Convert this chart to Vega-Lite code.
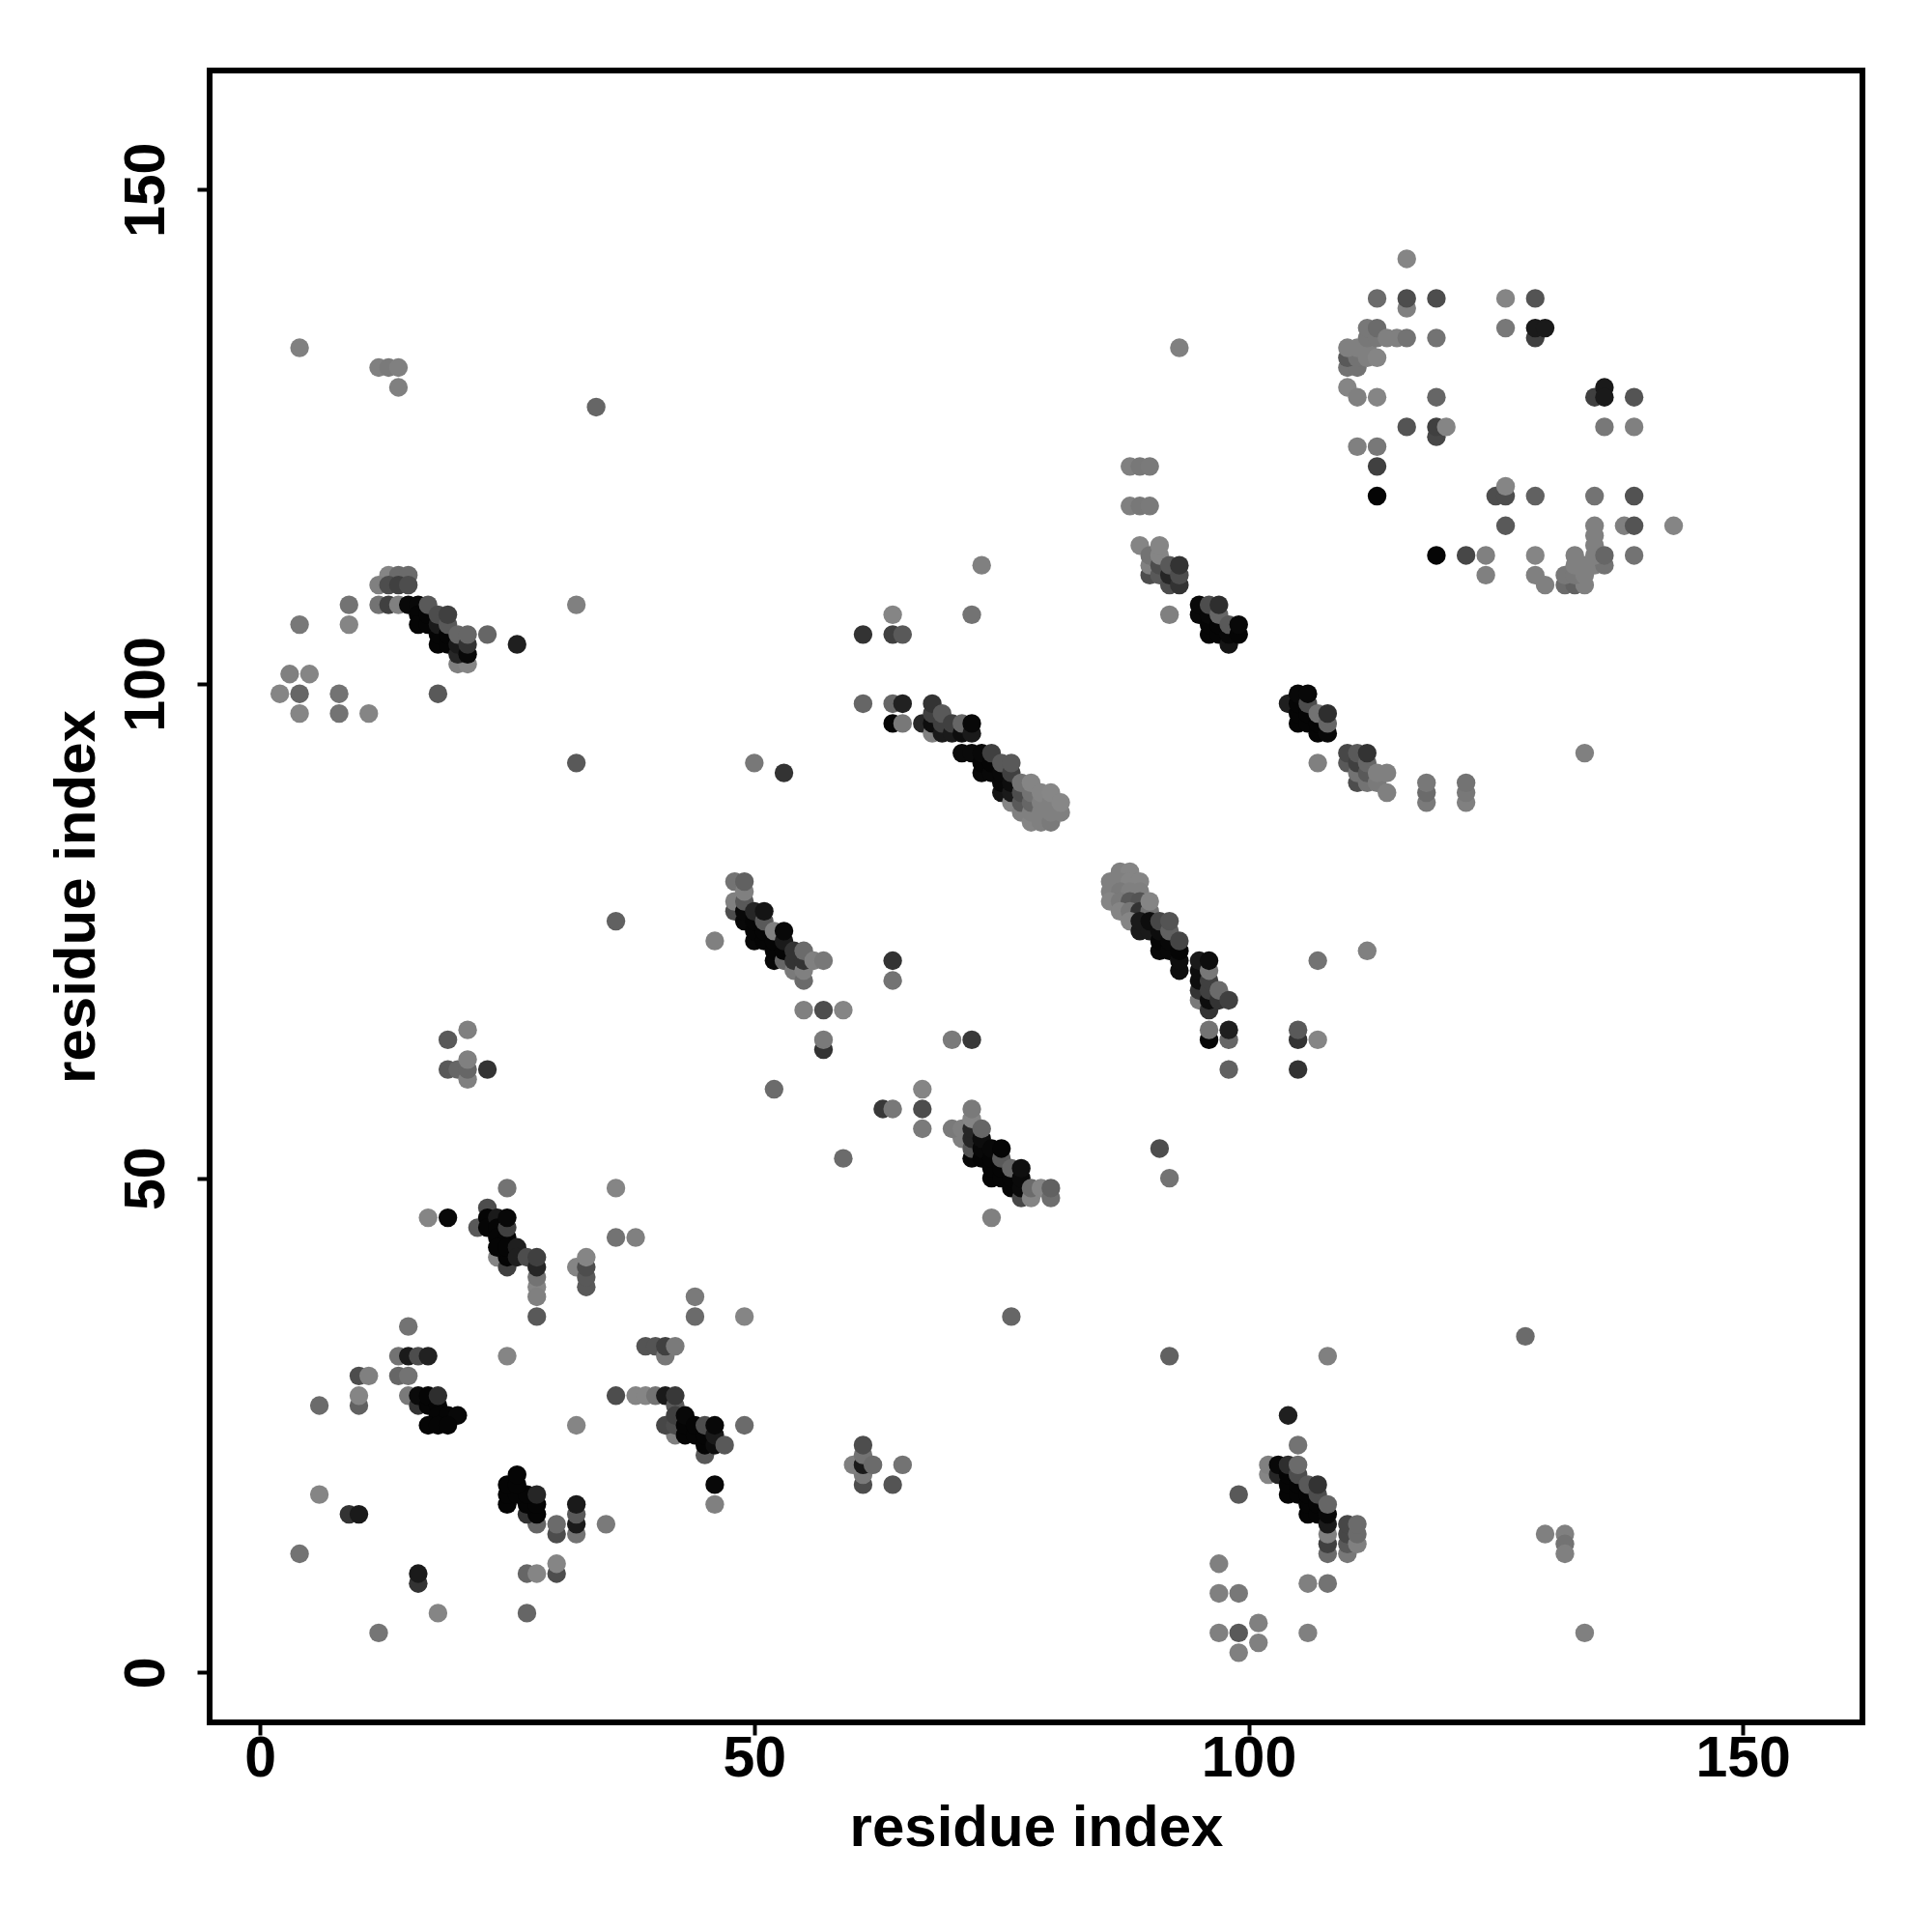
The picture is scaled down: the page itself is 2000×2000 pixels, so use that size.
{"$schema":"https://vega.github.io/schema/vega-lite/v6.json","autosize":{"type":"none"},"padding":{"left":217,"top":73,"right":72,"bottom":217},"width":1711,"height":1710,"background":"white","view":{"stroke":"black","strokeWidth":6},
"data":{"values":[
{"x":25,"y":49,"g":0.45},{"x":36,"y":49,"g":0.52},{"x":17,"y":46,"g":0.52},{"x":19,"y":46,"g":0.03},{"x":23,"y":47,"g":0.3},{"x":22,"y":45,"g":0.35},{"x":23,"y":46,"g":0.02},{"x":23,"y":45,"g":0.02},{"x":24,"y":46,"g":0.1},{"x":24,"y":45,"g":0.02},{"x":24,"y":44,"g":0.02},{"x":25,"y":44,"g":0.02},{"x":24,"y":42,"g":0.52},{"x":25,"y":41,"g":0.25},{"x":25,"y":42,"g":0.02},{"x":24,"y":43,"g":0.02},{"x":25,"y":43,"g":0.02},{"x":26,"y":43,"g":0.12},{"x":26,"y":42,"g":0.12},{"x":25,"y":45,"g":0.25},{"x":25,"y":46,"g":0.03},{"x":27,"y":42,"g":0.3},{"x":28,"y":39,"g":0.52},{"x":28,"y":38,"g":0.5},{"x":28,"y":40,"g":0.45},{"x":28,"y":41,"g":0.15},{"x":28,"y":42,"g":0.25},{"x":28,"y":36,"g":0.35},
{"x":32,"y":41,"g":0.52},{"x":33,"y":39,"g":0.35},{"x":33,"y":40,"g":0.35},{"x":33,"y":41,"g":0.3},{"x":33,"y":42,"g":0.52},{"x":36,"y":44,"g":0.45},{"x":38,"y":44,"g":0.5},{"x":15,"y":35,"g":0.45},{"x":14,"y":32,"g":0.45},{"x":15,"y":32,"g":0.1},{"x":16,"y":32,"g":0.3},{"x":17,"y":32,"g":0.13},{"x":25,"y":32,"g":0.52},{"x":10,"y":30,"g":0.3},{"x":11,"y":30,"g":0.5},{"x":14,"y":30,"g":0.4},{"x":15,"y":30,"g":0.45},{"x":10,"y":27,"g":0.38},{"x":10,"y":28,"g":0.52},{"x":6,"y":27,"g":0.42},{"x":15,"y":28,"g":0.48},{"x":16,"y":27,"g":0.2},{"x":16,"y":28,"g":0.04},{"x":17,"y":27,"g":0.02},{"x":17,"y":28,"g":0.02},{"x":18,"y":27,"g":0.02},{"x":18,"y":28,"g":0.18},{"x":18,"y":26,"g":0.02},{"x":19,"y":26,"g":0.02},{"x":20,"y":26,"g":0.03},{"x":17,"y":25,"g":0.02},{"x":18,"y":25,"g":0.02},{"x":19,"y":25,"g":0.02},{"x":32,"y":25,"g":0.52},{"x":36,"y":28,"g":0.3},
{"x":38,"y":28,"g":0.52},{"x":39,"y":28,"g":0.52},{"x":40,"y":28,"g":0.45},{"x":39,"y":33,"g":0.33},{"x":40,"y":33,"g":0.33},{"x":41,"y":32,"g":0.47},{"x":41,"y":33,"g":0.25},{"x":42,"y":33,"g":0.48},{"x":41,"y":28,"g":0.1},{"x":42,"y":27,"g":0.35},{"x":42,"y":28,"g":0.22},{"x":42,"y":24,"g":0.5},{"x":41,"y":25,"g":0.28},{"x":42,"y":25,"g":0.3},{"x":42,"y":26,"g":0.25},{"x":43,"y":24,"g":0.02},{"x":43,"y":25,"g":0.02},{"x":43,"y":26,"g":0.03},{"x":44,"y":24,"g":0.02},{"x":44,"y":25,"g":0.02},{"x":45,"y":22,"g":0.35},{"x":45,"y":23,"g":0.02},{"x":45,"y":24,"g":0.02},{"x":45,"y":25,"g":0.3},{"x":46,"y":23,"g":0.05},{"x":46,"y":24,"g":0.1},{"x":46,"y":25,"g":0.03},{"x":47,"y":23,"g":0.35},{"x":49,"y":25,"g":0.42},{"x":44,"y":38,"g":0.48},{"x":44,"y":36,"g":0.42},{"x":49,"y":36,"g":0.52},{"x":46,"y":19,"g":0.03},{"x":46,"y":17,"g":0.5},
{"x":28,"y":15,"g":0.4},{"x":27,"y":16,"g":0.2},{"x":28,"y":16,"g":0.02},{"x":25,"y":17,"g":0.02},{"x":27,"y":17,"g":0.02},{"x":28,"y":17,"g":0.02},{"x":25,"y":18,"g":0.02},{"x":26,"y":18,"g":0.02},{"x":27,"y":18,"g":0.02},{"x":28,"y":18,"g":0.15},{"x":25,"y":19,"g":0.02},{"x":26,"y":19,"g":0.02},{"x":26,"y":20,"g":0.02},{"x":30,"y":14,"g":0.3},{"x":30,"y":15,"g":0.42},{"x":32,"y":14,"g":0.45},{"x":32,"y":15,"g":0.1},{"x":32,"y":16,"g":0.35},{"x":32,"y":17,"g":0.1},{"x":35,"y":15,"g":0.48},{"x":30,"y":10,"g":0.3},{"x":30,"y":11,"g":0.52},{"x":27,"y":10,"g":0.4},{"x":28,"y":10,"g":0.52},{"x":16,"y":9,"g":0.2},{"x":16,"y":10,"g":0.1},{"x":9,"y":16,"g":0.2},{"x":10,"y":16,"g":0.1},{"x":6,"y":18,"g":0.52},{"x":4,"y":12,"g":0.45},{"x":18,"y":6,"g":0.52},{"x":27,"y":6,"g":0.4},{"x":12,"y":4,"g":0.46},
{"x":61,"y":19,"g":0.3},{"x":61,"y":20,"g":0.48},{"x":60,"y":21,"g":0.5},{"x":61,"y":21,"g":0.1},{"x":61,"y":22,"g":0.45},{"x":62,"y":21,"g":0.42},{"x":61,"y":23,"g":0.3},{"x":65,"y":21,"g":0.45},{"x":64,"y":19,"g":0.33},
{"x":64,"y":72,"g":0.2},{"x":64,"y":70,"g":0.45},{"x":55,"y":67,"g":0.5},{"x":57,"y":67,"g":0.3},{"x":59,"y":67,"g":0.52},{"x":57,"y":63,"g":0.2},{"x":57,"y":64,"g":0.48},{"x":70,"y":64,"g":0.48},{"x":72,"y":64,"g":0.22},{"x":52,"y":59,"g":0.42},{"x":67,"y":59,"g":0.52},{"x":67,"y":57,"g":0.3},{"x":67,"y":55,"g":0.48},{"x":63,"y":57,"g":0.22},{"x":64,"y":57,"g":0.47},{"x":59,"y":52,"g":0.42},
{"x":71,"y":54,"g":0.5},{"x":70,"y":55,"g":0.48},{"x":71,"y":55,"g":0.5},{"x":72,"y":52,"g":0.03},{"x":72,"y":53,"g":0.33},{"x":72,"y":54,"g":0.15},{"x":72,"y":55,"g":0.15},{"x":72,"y":56,"g":0.52},{"x":72,"y":57,"g":0.48},{"x":73,"y":52,"g":0.02},{"x":73,"y":53,"g":0.03},{"x":73,"y":54,"g":0.05},{"x":73,"y":55,"g":0.4},{"x":74,"y":50,"g":0.02},{"x":74,"y":51,"g":0.02},{"x":74,"y":52,"g":0.02},{"x":74,"y":53,"g":0.03},{"x":75,"y":50,"g":0.02},{"x":75,"y":51,"g":0.02},{"x":75,"y":52,"g":0.35},{"x":75,"y":53,"g":0.02},{"x":76,"y":49,"g":0.02},{"x":76,"y":50,"g":0.02},{"x":76,"y":51,"g":0.4},{"x":77,"y":48,"g":0.28},{"x":77,"y":49,"g":0.04},{"x":77,"y":50,"g":0.04},{"x":77,"y":51,"g":0.06},{"x":78,"y":48,"g":0.52},{"x":78,"y":49,"g":0.42},{"x":79,"y":49,"g":0.52},{"x":80,"y":48,"g":0.43},{"x":80,"y":49,"g":0.38},{"x":74,"y":46,"g":0.5},
{"x":48,"y":77,"g":0.3},{"x":48,"y":78,"g":0.5},{"x":48,"y":80,"g":0.45},{"x":49,"y":76,"g":0.03},{"x":49,"y":77,"g":0.03},{"x":49,"y":78,"g":0.35},{"x":49,"y":79,"g":0.5},{"x":49,"y":80,"g":0.38},{"x":50,"y":74,"g":0.03},{"x":50,"y":75,"g":0.02},{"x":50,"y":76,"g":0.02},{"x":50,"y":77,"g":0.15},{"x":51,"y":74,"g":0.02},{"x":51,"y":75,"g":0.02},{"x":51,"y":76,"g":0.35},{"x":51,"y":77,"g":0.08},{"x":52,"y":72,"g":0.03},{"x":52,"y":73,"g":0.02},{"x":52,"y":74,"g":0.02},{"x":52,"y":75,"g":0.5},{"x":53,"y":72,"g":0.4},{"x":53,"y":73,"g":0.02},{"x":53,"y":74,"g":0.1},{"x":53,"y":75,"g":0.03},{"x":54,"y":71,"g":0.48},{"x":54,"y":72,"g":0.2},{"x":54,"y":73,"g":0.2},{"x":55,"y":70,"g":0.42},{"x":55,"y":71,"g":0.5},{"x":55,"y":72,"g":0.2},{"x":55,"y":73,"g":0.42},{"x":56,"y":72,"g":0.5},{"x":57,"y":72,"g":0.47},{"x":46,"y":74,"g":0.5},
{"x":87,"y":81,"g":0.5},{"x":88,"y":81,"g":0.52},{"x":86,"y":80,"g":0.5},{"x":87,"y":80,"g":0.5},{"x":88,"y":80,"g":0.52},{"x":89,"y":80,"g":0.52},{"x":86,"y":79,"g":0.5},{"x":87,"y":79,"g":0.48},{"x":88,"y":79,"g":0.5},{"x":89,"y":79,"g":0.5},{"x":86,"y":78,"g":0.52},{"x":87,"y":78,"g":0.48},{"x":88,"y":78,"g":0.35},{"x":89,"y":78,"g":0.33},{"x":87,"y":77,"g":0.52},{"x":88,"y":77,"g":0.47},{"x":89,"y":77,"g":0.2},{"x":90,"y":77,"g":0.45},{"x":90,"y":78,"g":0.52},{"x":88,"y":76,"g":0.52},{"x":89,"y":75,"g":0.1},{"x":89,"y":76,"g":0.1},{"x":90,"y":75,"g":0.1},{"x":90,"y":76,"g":0.05},{"x":91,"y":73,"g":0.03},{"x":91,"y":74,"g":0.02},{"x":91,"y":75,"g":0.05},{"x":91,"y":76,"g":0.28},{"x":92,"y":73,"g":0.03},{"x":92,"y":74,"g":0.03},{"x":92,"y":75,"g":0.38},{"x":92,"y":76,"g":0.33},{"x":93,"y":71,"g":0.05},{"x":93,"y":72,"g":0.05},{"x":93,"y":73,"g":0.02},{"x":93,"y":74,"g":0.27},
{"x":95,"y":68,"g":0.48},{"x":95,"y":69,"g":0.2},{"x":95,"y":70,"g":0.05},{"x":95,"y":71,"g":0.05},{"x":95,"y":72,"g":0.1},{"x":96,"y":67,"g":0.2},{"x":96,"y":68,"g":0.05},{"x":96,"y":69,"g":0.25},{"x":96,"y":70,"g":0.25},{"x":96,"y":71,"g":0.47},{"x":96,"y":72,"g":0.05},{"x":97,"y":68,"g":0.2},{"x":97,"y":69,"g":0.42},{"x":98,"y":68,"g":0.25},{"x":96,"y":64,"g":0.02},{"x":96,"y":65,"g":0.45},{"x":98,"y":64,"g":0.4},{"x":98,"y":65,"g":0.12},{"x":98,"y":61,"g":0.38},{"x":105,"y":64,"g":0.2},{"x":105,"y":65,"g":0.35},{"x":107,"y":64,"g":0.52},{"x":105,"y":61,"g":0.2},{"x":107,"y":72,"g":0.45},{"x":112,"y":73,"g":0.5},{"x":92,"y":32,"g":0.38},{"x":76,"y":36,"g":0.4},{"x":91,"y":53,"g":0.3},{"x":92,"y":50,"g":0.45},{"x":128,"y":34,"g":0.42},{"x":108,"y":32,"g":0.5},{"x":134,"y":93,"g":0.5},
{"x":64,"y":107,"g":0.52},{"x":72,"y":107,"g":0.45},{"x":61,"y":105,"g":0.2},{"x":64,"y":105,"g":0.25},{"x":65,"y":105,"g":0.35},{"x":61,"y":98,"g":0.4},{"x":64,"y":98,"g":0.4},{"x":65,"y":98,"g":0.13},{"x":64,"y":96,"g":0.02},{"x":65,"y":96,"g":0.47},{"x":67,"y":96,"g":0.15},{"x":68,"y":95,"g":0.5},{"x":68,"y":96,"g":0.05},{"x":68,"y":97,"g":0.25},{"x":68,"y":98,"g":0.2},{"x":69,"y":95,"g":0.1},{"x":69,"y":96,"g":0.25},{"x":69,"y":97,"g":0.35},{"x":70,"y":95,"g":0.1},{"x":70,"y":96,"g":0.25},{"x":71,"y":95,"g":0.05},{"x":71,"y":96,"g":0.4},{"x":72,"y":95,"g":0.1},{"x":72,"y":96,"g":0.03},
{"x":71,"y":93,"g":0.04},{"x":72,"y":93,"g":0.04},{"x":73,"y":91,"g":0.03},{"x":73,"y":92,"g":0.02},{"x":73,"y":93,"g":0.03},{"x":74,"y":91,"g":0.03},{"x":74,"y":92,"g":0.02},{"x":74,"y":93,"g":0.25},{"x":75,"y":89,"g":0.08},{"x":75,"y":90,"g":0.03},{"x":75,"y":91,"g":0.03},{"x":75,"y":92,"g":0.35},{"x":76,"y":88,"g":0.52},{"x":76,"y":89,"g":0.1},{"x":76,"y":90,"g":0.05},{"x":76,"y":91,"g":0.25},{"x":76,"y":92,"g":0.35},{"x":77,"y":87,"g":0.5},{"x":77,"y":88,"g":0.35},{"x":77,"y":89,"g":0.3},{"x":77,"y":90,"g":0.45},{"x":78,"y":86,"g":0.52},{"x":78,"y":87,"g":0.5},{"x":78,"y":88,"g":0.4},{"x":78,"y":89,"g":0.45},{"x":78,"y":90,"g":0.52},{"x":79,"y":86,"g":0.5},{"x":79,"y":87,"g":0.5},{"x":79,"y":88,"g":0.5},{"x":79,"y":89,"g":0.52},{"x":80,"y":86,"g":0.48},{"x":80,"y":87,"g":0.5},{"x":80,"y":88,"g":0.5},{"x":80,"y":89,"g":0.53},{"x":81,"y":87,"g":0.5},{"x":81,"y":88,"g":0.53},
{"x":88,"y":122,"g":0.5},{"x":89,"y":122,"g":0.47},{"x":90,"y":122,"g":0.48},{"x":88,"y":118,"g":0.5},{"x":89,"y":118,"g":0.47},{"x":90,"y":118,"g":0.48},{"x":89,"y":114,"g":0.52},{"x":90,"y":111,"g":0.3},{"x":90,"y":112,"g":0.5},{"x":90,"y":113,"g":0.45},{"x":91,"y":111,"g":0.35},{"x":91,"y":112,"g":0.3},{"x":91,"y":113,"g":0.52},{"x":91,"y":114,"g":0.52},{"x":92,"y":110,"g":0.3},{"x":92,"y":111,"g":0.15},{"x":92,"y":112,"g":0.35},{"x":93,"y":110,"g":0.2},{"x":93,"y":111,"g":0.3},{"x":93,"y":112,"g":0.2},{"x":92,"y":107,"g":0.5},
{"x":95,"y":107,"g":0.03},{"x":95,"y":108,"g":0.03},{"x":96,"y":105,"g":0.02},{"x":96,"y":106,"g":0.02},{"x":96,"y":107,"g":0.03},{"x":96,"y":108,"g":0.3},{"x":97,"y":105,"g":0.02},{"x":97,"y":106,"g":0.02},{"x":97,"y":107,"g":0.4},{"x":97,"y":108,"g":0.18},{"x":98,"y":104,"g":0.08},{"x":98,"y":105,"g":0.03},{"x":98,"y":106,"g":0.35},{"x":99,"y":105,"g":0.02},{"x":99,"y":106,"g":0.03},
{"x":116,"y":143,"g":0.52},{"x":113,"y":139,"g":0.42},{"x":116,"y":138,"g":0.5},{"x":116,"y":139,"g":0.3},{"x":119,"y":139,"g":0.3},{"x":126,"y":139,"g":0.52},{"x":129,"y":139,"g":0.33},{"x":126,"y":136,"g":0.47},{"x":129,"y":135,"g":0.25},{"x":129,"y":136,"g":0.1},{"x":130,"y":136,"g":0.1},
{"x":110,"y":132,"g":0.45},{"x":111,"y":132,"g":0.45},{"x":110,"y":133,"g":0.35},{"x":111,"y":133,"g":0.45},{"x":110,"y":134,"g":0.5},{"x":111,"y":134,"g":0.5},{"x":112,"y":133,"g":0.5},{"x":112,"y":134,"g":0.5},{"x":113,"y":133,"g":0.52},{"x":112,"y":135,"g":0.47},{"x":112,"y":136,"g":0.47},{"x":113,"y":135,"g":0.47},{"x":113,"y":136,"g":0.42},{"x":114,"y":135,"g":0.5},{"x":115,"y":135,"g":0.5},{"x":116,"y":135,"g":0.45},{"x":119,"y":135,"g":0.45},
{"x":110,"y":130,"g":0.52},{"x":111,"y":129,"g":0.5},{"x":113,"y":129,"g":0.52},{"x":119,"y":129,"g":0.4},{"x":116,"y":126,"g":0.33},{"x":119,"y":125,"g":0.28},{"x":119,"y":126,"g":0.25},{"x":120,"y":126,"g":0.52},{"x":111,"y":124,"g":0.5},{"x":113,"y":124,"g":0.47},{"x":113,"y":122,"g":0.25},{"x":113,"y":119,"g":0.02},{"x":135,"y":129,"g":0.25},{"x":136,"y":130,"g":0.1},{"x":136,"y":129,"g":0.1},{"x":139,"y":129,"g":0.33},{"x":136,"y":126,"g":0.47},{"x":139,"y":126,"g":0.5},
{"x":125,"y":119,"g":0.3},{"x":126,"y":119,"g":0.3},{"x":126,"y":120,"g":0.52},{"x":129,"y":119,"g":0.38},{"x":135,"y":119,"g":0.45},{"x":139,"y":119,"g":0.32},{"x":126,"y":116,"g":0.35},{"x":135,"y":114,"g":0.5},{"x":135,"y":115,"g":0.5},{"x":135,"y":116,"g":0.5},{"x":138,"y":116,"g":0.5},{"x":139,"y":116,"g":0.33},{"x":143,"y":116,"g":0.52},{"x":119,"y":113,"g":0.02},{"x":122,"y":113,"g":0.28},{"x":124,"y":113,"g":0.5},{"x":129,"y":113,"g":0.52},{"x":139,"y":113,"g":0.45},{"x":124,"y":111,"g":0.5},{"x":129,"y":111,"g":0.5},{"x":130,"y":110,"g":0.5},
{"x":132,"y":110,"g":0.42},{"x":133,"y":110,"g":0.38},{"x":134,"y":110,"g":0.5},{"x":132,"y":111,"g":0.47},{"x":133,"y":111,"g":0.47},{"x":134,"y":111,"g":0.5},{"x":133,"y":112,"g":0.5},{"x":134,"y":112,"g":0.5},{"x":135,"y":112,"g":0.5},{"x":136,"y":112,"g":0.45},{"x":133,"y":113,"g":0.5},{"x":135,"y":113,"g":0.5},{"x":136,"y":113,"g":0.4},
{"x":13,"y":111,"g":0.52},{"x":14,"y":111,"g":0.42},{"x":15,"y":111,"g":0.42},{"x":12,"y":110,"g":0.5},{"x":13,"y":110,"g":0.3},{"x":14,"y":110,"g":0.25},{"x":15,"y":110,"g":0.3},{"x":9,"y":108,"g":0.45},{"x":12,"y":108,"g":0.45},{"x":13,"y":108,"g":0.25},{"x":14,"y":108,"g":0.5},{"x":15,"y":108,"g":0.03},{"x":16,"y":108,"g":0.03},{"x":16,"y":107,"g":0.02},{"x":16,"y":106,"g":0.02},{"x":17,"y":106,"g":0.02},{"x":17,"y":107,"g":0.02},{"x":17,"y":108,"g":0.35},{"x":4,"y":106,"g":0.47},{"x":9,"y":106,"g":0.52},{"x":18,"y":104,"g":0.02},{"x":18,"y":105,"g":0.02},{"x":18,"y":106,"g":0.1},{"x":18,"y":107,"g":0.3},{"x":19,"y":104,"g":0.02},{"x":19,"y":105,"g":0.02},{"x":19,"y":106,"g":0.35},{"x":19,"y":107,"g":0.25},{"x":20,"y":102,"g":0.5},{"x":21,"y":102,"g":0.52},{"x":20,"y":103,"g":0.15},{"x":20,"y":104,"g":0.1},{"x":20,"y":105,"g":0.4},{"x":21,"y":103,"g":0.03},{"x":21,"y":104,"g":0.2},{"x":21,"y":105,"g":0.4},{"x":23,"y":105,"g":0.4},{"x":26,"y":104,"g":0.12},
{"x":3,"y":101,"g":0.5},{"x":5,"y":101,"g":0.52},{"x":2,"y":99,"g":0.52},{"x":4,"y":99,"g":0.4},{"x":8,"y":99,"g":0.45},{"x":18,"y":99,"g":0.35},{"x":4,"y":97,"g":0.52},{"x":8,"y":97,"g":0.45},{"x":11,"y":97,"g":0.52},
{"x":104,"y":26,"g":0.12},{"x":105,"y":23,"g":0.45},{"x":102,"y":20,"g":0.52},{"x":102,"y":21,"g":0.5},{"x":103,"y":20,"g":0.15},{"x":103,"y":21,"g":0.03},{"x":104,"y":18,"g":0.02},{"x":104,"y":19,"g":0.02},{"x":104,"y":20,"g":0.02},{"x":104,"y":21,"g":0.18},{"x":105,"y":18,"g":0.02},{"x":105,"y":19,"g":0.02},{"x":105,"y":20,"g":0.3},{"x":105,"y":21,"g":0.42},{"x":106,"y":16,"g":0.02},{"x":106,"y":17,"g":0.02},{"x":106,"y":18,"g":0.02},{"x":106,"y":19,"g":0.35},{"x":107,"y":16,"g":0.02},{"x":107,"y":17,"g":0.02},{"x":107,"y":18,"g":0.3},{"x":107,"y":19,"g":0.2},{"x":108,"y":12,"g":0.42},{"x":108,"y":13,"g":0.25},{"x":108,"y":14,"g":0.5},{"x":108,"y":15,"g":0.1},{"x":108,"y":16,"g":0.03},{"x":108,"y":17,"g":0.4},{"x":110,"y":12,"g":0.47},{"x":110,"y":13,"g":0.35},{"x":110,"y":14,"g":0.28},{"x":110,"y":15,"g":0.28},{"x":111,"y":13,"g":0.5},{"x":111,"y":14,"g":0.42},{"x":111,"y":15,"g":0.42},{"x":106,"y":9,"g":0.5},{"x":108,"y":9,"g":0.45},{"x":99,"y":18,"g":0.35},
{"x":97,"y":11,"g":0.5},{"x":97,"y":8,"g":0.5},{"x":99,"y":8,"g":0.47},{"x":97,"y":4,"g":0.5},{"x":99,"y":4,"g":0.35},{"x":101,"y":5,"g":0.5},{"x":101,"y":3,"g":0.5},{"x":99,"y":2,"g":0.5},{"x":106,"y":4,"g":0.5},{"x":130,"y":14,"g":0.5},{"x":132,"y":14,"g":0.5},{"x":132,"y":13,"g":0.45},{"x":132,"y":12,"g":0.5},{"x":134,"y":4,"g":0.5},
{"x":4,"y":134,"g":0.5},{"x":12,"y":132,"g":0.5},{"x":13,"y":132,"g":0.48},{"x":14,"y":132,"g":0.5},{"x":14,"y":130,"g":0.5},{"x":34,"y":128,"g":0.4},{"x":32,"y":108,"g":0.5},{"x":32,"y":92,"g":0.35},{"x":36,"y":76,"g":0.38},{"x":50,"y":92,"g":0.47},{"x":53,"y":91,"g":0.2},{"x":93,"y":134,"g":0.5},{"x":73,"y":112,"g":0.5},
{"x":19,"y":64,"g":0.35},{"x":21,"y":65,"g":0.5},{"x":19,"y":61,"g":0.35},{"x":20,"y":61,"g":0.4},{"x":21,"y":60,"g":0.5},{"x":21,"y":61,"g":0.4},{"x":21,"y":62,"g":0.5},{"x":23,"y":61,"g":0.2},
{"x":104,"y":98,"g":0.12},{"x":105,"y":96,"g":0.02},{"x":105,"y":97,"g":0.02},{"x":105,"y":98,"g":0.02},{"x":105,"y":99,"g":0.03},{"x":106,"y":96,"g":0.02},{"x":106,"y":97,"g":0.02},{"x":106,"y":98,"g":0.3},{"x":106,"y":99,"g":0.03},{"x":107,"y":95,"g":0.02},{"x":107,"y":96,"g":0.02},{"x":107,"y":97,"g":0.45},{"x":108,"y":95,"g":0.03},{"x":108,"y":96,"g":0.4},{"x":108,"y":97,"g":0.18},{"x":107,"y":92,"g":0.5},
{"x":110,"y":92,"g":0.35},{"x":110,"y":93,"g":0.28},{"x":111,"y":90,"g":0.3},{"x":111,"y":91,"g":0.45},{"x":111,"y":92,"g":0.25},{"x":111,"y":93,"g":0.35},{"x":112,"y":90,"g":0.45},{"x":112,"y":91,"g":0.35},{"x":112,"y":92,"g":0.4},{"x":112,"y":93,"g":0.2},{"x":113,"y":90,"g":0.48},{"x":113,"y":91,"g":0.5},{"x":114,"y":91,"g":0.5},{"x":114,"y":89,"g":0.5},{"x":118,"y":88,"g":0.48},{"x":118,"y":89,"g":0.42},{"x":118,"y":90,"g":0.47},{"x":122,"y":88,"g":0.5},{"x":122,"y":89,"g":0.47},{"x":122,"y":90,"g":0.45}
]},
"mark":{"type":"point","filled":true,"shape":"circle","opacity":1,"size":375,"strokeWidth":0},
"encoding":{
"x":{"field":"x","type":"quantitative","title":"residue index","scale":{"domain":[-5.1,162.1],"nice":false,"zero":false},"axis":{"values":[0,50,100,150],"grid":false,"domain":false,"ticks":true,"tickColor":"black","tickSize":13,"tickWidth":4,"labelColor":"black","labelFont":"Liberation Sans","labelFontWeight":"bold","labelFontSize":59,"labelPadding":-5,"labelOverlap":false,"titleFont":"Liberation Sans","titleFontWeight":"bold","titleFontSize":60,"titleColor":"black","titlePadding":13}},
"y":{"field":"y","type":"quantitative","title":"residue index","scale":{"domain":[-5.05,162.05],"nice":false,"zero":false},"axis":{"values":[0,50,100,150],"grid":false,"domain":false,"ticks":true,"tickColor":"black","tickSize":13,"tickWidth":4,"labelColor":"black","labelFont":"Liberation Sans","labelFontWeight":"bold","labelFontSize":59,"labelAngle":-90,"labelAlign":"center","labelBaseline":"bottom","labelPadding":23,"labelOverlap":false,"titleFont":"Liberation Sans","titleFontWeight":"bold","titleFontSize":60,"titleColor":"black","titlePadding":12}},
"color":{"field":"g","type":"quantitative","scale":{"domain":[0,1],"range":["#000000","#ffffff"],"interpolate":"rgb"},"legend":null}
}}
